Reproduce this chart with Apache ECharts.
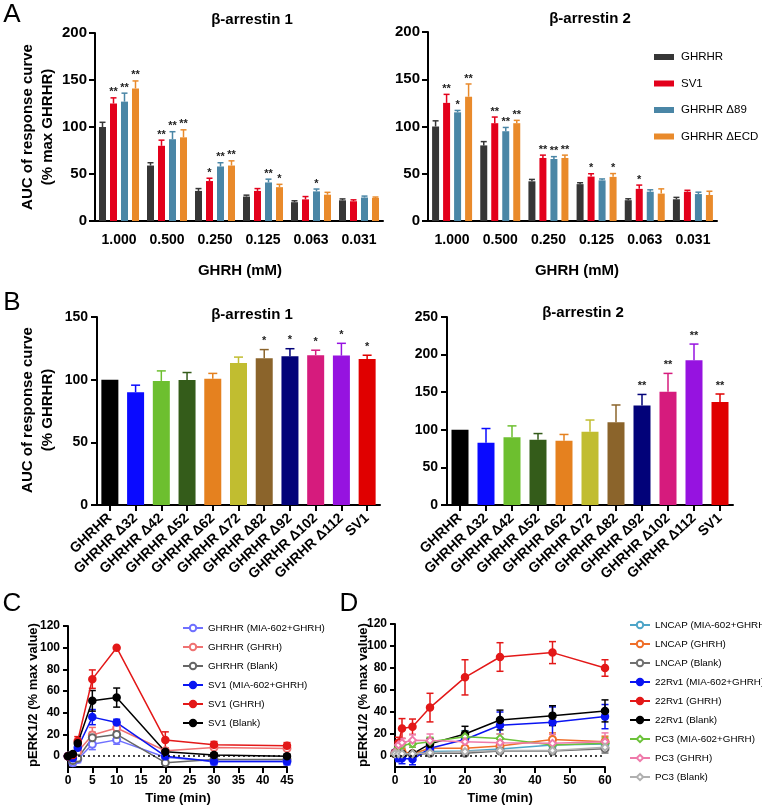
<!DOCTYPE html>
<html>
<head>
<meta charset="utf-8">
<script src="https://cdn.jsdelivr.net/npm/echarts@6/dist/echarts.min.js"></script>
<style>html,body{margin:0;padding:0;background:#fff}#main{width:762px;height:807px}</style>
</head>
<body>
<div id="main"></div>
<script>
// ---------- data ----------
const doses = ['1.000', '0.500', '0.250', '0.125', '0.063', '0.031'];
const groupsA = ['GHRHR', 'SV1', 'GHRHR Δ89', 'GHRHR ΔECD'];
const colorsA = ['#363636', '#e3001b', '#4a86a6', '#e98a2b'];

// beta-arrestin 1, panel A (one row per group)
const a1Mean = [[100, 59, 32, 26, 20, 22], [125, 80, 42.5, 32, 23, 21], [127, 87, 58, 41, 31.5, 25], [141, 89, 59, 36, 28, 24.5]];
const a1Err = [[5, 3, 2.5, 1.5, 1.5, 1.5], [6, 6, 3, 2.5, 3, 1.5], [9, 8, 4, 3.5, 2.5, 1.5], [8, 8, 5, 3, 2.5, 1]];
const a1Stars = [['', '', '', '', '', ''], ['**', '**', '*', '', '', ''], ['**', '**', '**', '**', '*', ''], ['**', '**', '**', '*', '', '']];
// beta-arrestin 2, panel A
const a2Mean = [[100, 80, 42, 39, 22, 23], [125, 103.5, 66.7, 47, 34, 31], [115, 95, 65.6, 43, 31, 28.5], [131.5, 103.5, 66.7, 46.7, 29, 27.5]];
const a2Err = [[6, 4, 2, 1.5, 1.5, 2], [9, 6.5, 3, 3, 4, 1.5], [2, 4, 2.5, 1.5, 2, 2], [13.5, 3, 3, 3.5, 5, 4]];
const a2Stars = [['', '', '', '', '', ''], ['**', '**', '**', '*', '*', ''], ['*', '**', '**', '', '', ''], ['**', '**', '**', '*', '', '']];

// panel B
const labelsB = ['GHRHR', 'GHRHR Δ32', 'GHRHR Δ42', 'GHRHR Δ52', 'GHRHR Δ62', 'GHRHR Δ72', 'GHRHR Δ82', 'GHRHR Δ92', 'GHRHR Δ102', 'GHRHR Δ112', 'SV1'];
const colorsB = ['#000000', '#0a0aff', '#6dbf2f', '#345c1a', '#e5811f', '#c1bd30', '#8b642b', '#020279', '#d61b7d', '#9613e0', '#e00000'];
const b1Mean = [100, 90, 99, 99.7, 100.8, 113.3, 117, 118.7, 119.5, 119.2, 116.5];
const b1Err = [0, 5.6, 8, 6, 4.2, 4.7, 7, 6, 4, 9.8, 3];
const b1Stars = ['', '', '', '', '', '', '*', '*', '*', '*', '*'];
const b2Mean = [100, 82.7, 90.2, 86.7, 85.3, 97.3, 110, 132.4, 150.7, 192.4, 137];
const b2Err = [0, 19, 15, 8.3, 8.5, 15.7, 23, 14.6, 24.3, 21.6, 10.6];
const b2Stars = ['', '', '', '', '', '', '', '**', '**', '**', '**'];

// panel C
const timesC = [0, 1, 2, 5, 10, 20, 30, 45];
const namesC = ['GHRHR (MIA-602+GHRH)', 'GHRHR (GHRH)', 'GHRHR (Blank)', 'SV1 (MIA-602+GHRH)', 'SV1 (GHRH)', 'SV1 (Blank)'];
const colorsC = ['#6f70ff', '#ef7272', '#666666', '#0a16f2', '#e31818', '#000000'];
const symbolsC = ['emptyCircle', 'emptyCircle', 'emptyCircle', 'circle', 'circle', 'circle'];
const cMean = [
  [0, -6, -3, 11, 15, -1, -5, -5],
  [0, -3, 4, 19.5, 26, 5, 8, 7],
  [0, -4, -2, 17, 20, -6, -3, -3],
  [0, -2, 7.7, 36, 31, 0, -5, -5],
  [0, 1, 14, 71, 100, 15, 10.5, 9.5],
  [0, 2, 12, 51, 54, 4, 1, 0]
];
const cErr = [
  [2, 3, 3, 5, 4, 1, 2, 2],
  [2, 2, 3, 7, 3, 1, 1, 1],
  [2, 2, 2, 5, 3, 1, 1, 1],
  [1, 3, 3, 7, 3, 2, 3, 3],
  [1, 2, 4, 8.5, 0, 7.4, 3, 3],
  [1, 2, 3, 9.5, 8.8, 2, 2, 2]
];

// panel D
const timesD = [0, 1, 2, 5, 10, 20, 30, 45, 60];
const namesD = ['LNCAP (MIA-602+GHRH)', 'LNCAP (GHRH)', 'LNCAP (Blank)', '22Rv1 (MIA-602+GHRH)', '22Rv1 (GHRH)', '22Rv1 (Blank)', 'PC3 (MIA-602+GHRH)', 'PC3 (GHRH)', 'PC3 (Blank)'];
const colorsD = ['#4ea5c8', '#ef6f2a', '#707070', '#0a14f2', '#e31818', '#000000', '#6cc23a', '#ef7aaa', '#b0b0b0'];
const symbolsD = ['emptyCircle', 'emptyCircle', 'emptyCircle', 'circle', 'circle', 'circle', 'emptyDiamond', 'emptyDiamond', 'emptyDiamond'];
const dMean = [
  [3, 3, 2, 2, 4, 4.5, 6.4, 10, 11],
  [2, 5, 4, 2, 7, 7, 9, 15, 13],
  [2, 1, 1, 1, 2.4, 2.4, 4.5, 4.5, 6.7],
  [3, -2, -2, -3, 7, 15, 28, 30.6, 35.8],
  [3, 12, 25, 26.6, 44, 71.5, 90, 94, 80],
  [2, 3, 2, 2, 11, 20, 32.7, 36.7, 41],
  [3, 8, 10, 11, 13, 17.6, 16, 10, 11.5],
  [3, 10, 12, 14.4, 14, 13, 12, 11.5, 13],
  [2, 2, 2, 2, 3, 4, 5, 5, 8]
];
const dErr = [
  [2, 2, 2, 2, 2, 2, 2, 3, 3],
  [2, 2, 2, 2, 2, 2, 3, 6, 5],
  [1, 1, 1, 1, 2, 2, 2, 3, 4],
  [2, 3, 5, 5, 6, 8, 12, 14, 11],
  [2, 5, 9, 7, 13, 16, 13, 10, 7.5],
  [1, 2, 2, 2, 5, 7, 9, 9, 10],
  [2, 3, 3, 3, 4, 5, 4, 4, 5],
  [2, 4, 4, 5, 6, 8, 8, 8, 8],
  [1, 1, 1, 1, 2, 2, 2, 2, 3]
];

const pctTicks = [0, 20, 40, 60, 80, 100, 120];

// ---------- helpers ----------
const FONT = 'Liberation Sans, Arial, Helvetica, sans-serif';

function axisBase(extra) {
  return Object.assign({
    axisLine: { show: true, onZero: false, lineStyle: { color: '#000', width: 2 } },
    axisTick: { show: true, length: 6, lineStyle: { color: '#000', width: 2 } },
    splitLine: { show: false }
  }, extra);
}

function lbl(size, extra) {
  return Object.assign({ color: '#000', fontWeight: 'bold', fontSize: size, fontFamily: FONT }, extra);
}

// upward error bar (+ stars) drawn next to a bar, offset in px from category centre
function barErr(offset, colorOf, capW, stars, starGap) {
  return function (params, api) {
    const x = api.value(0), v = api.value(1), e = api.value(2);
    const base = api.coord([x, v]);
    const top = api.coord([x, v + e]);
    const cx = base[0] + offset;
    const col = colorOf(params.dataIndex);
    const ch = [];
    if (e > 0) {
      ch.push({ type: 'line', shape: { x1: cx, y1: base[1], x2: cx, y2: top[1] }, style: { stroke: col, lineWidth: 1.5 } });
      ch.push({ type: 'line', shape: { x1: cx - capW / 2, y1: top[1], x2: cx + capW / 2, y2: top[1] }, style: { stroke: col, lineWidth: 1.5 } });
    }
    const s = stars[params.dataIndex];
    if (s) {
      ch.push({ type: 'text', style: { text: s, x: cx, y: top[1] - starGap, textAlign: 'center', textVerticalAlign: 'bottom', font: 'bold 11px ' + FONT, fill: '#222' } });
    }
    return { type: 'group', children: ch };
  };
}

// symmetric error bar for time courses
function lineErr(col) {
  return function (params, api) {
    const x = api.value(0), v = api.value(1), e = api.value(2);
    if (!e) return null;
    const lo = api.coord([x, v - e]);
    const hi = api.coord([x, v + e]);
    const w = 3.5;
    return { type: 'group', children: [
      { type: 'line', shape: { x1: lo[0], y1: lo[1], x2: hi[0], y2: hi[1] }, style: { stroke: col, lineWidth: 1.5 } },
      { type: 'line', shape: { x1: lo[0] - w, y1: lo[1], x2: lo[0] + w, y2: lo[1] }, style: { stroke: col, lineWidth: 1.5 } },
      { type: 'line', shape: { x1: hi[0] - w, y1: hi[1], x2: hi[0] + w, y2: hi[1] }, style: { stroke: col, lineWidth: 1.5 } }
    ] };
  };
}

// ---------- series ----------
const series = [];
const barW = 7, step = 11;

[[a1Mean, a1Err, a1Stars, 0], [a2Mean, a2Err, a2Stars, 1]].forEach(function (p) {
  const means = p[0], errs = p[1], stars = p[2], ax = p[3];
  groupsA.forEach(function (g, gi) {
    series.push({
      type: 'bar', name: g, xAxisIndex: ax, yAxisIndex: ax,
      data: means[gi], barWidth: barW, barGap: ((step - barW) / barW * 100) + '%',
      itemStyle: { color: colorsA[gi] }, z: 2
    });
  });
  groupsA.forEach(function (g, gi) {
    series.push({
      type: 'custom', xAxisIndex: ax, yAxisIndex: ax, silent: true, z: 3,
      data: means[gi].map(function (v, i) { return [i, v, errs[gi][i]]; }),
      encode: { x: 0, y: 1 },
      renderItem: barErr((gi - 1.5) * step, function () { return colorsA[gi]; }, 6, stars[gi], 0)
    });
  });
});

[[b1Mean, b1Err, b1Stars, 2], [b2Mean, b2Err, b2Stars, 3]].forEach(function (p) {
  const means = p[0], errs = p[1], stars = p[2], ax = p[3];
  series.push({
    type: 'bar', name: 'B' + ax, xAxisIndex: ax, yAxisIndex: ax, barWidth: 17, z: 2,
    data: means.map(function (v, i) { return { value: v, itemStyle: { color: colorsB[i] } }; })
  });
  series.push({
    type: 'custom', xAxisIndex: ax, yAxisIndex: ax, silent: true, z: 3,
    data: means.map(function (v, i) { return [i, v, errs[i]]; }),
    encode: { x: 0, y: 1 },
    renderItem: barErr(0, function (i) { return colorsB[i]; }, 9, stars, 3)
  });
});

function addTimeCourse(names, colors, symbols, times, means, errs, ax) {
  names.forEach(function (n, k) {
    series.push({
      type: 'custom', xAxisIndex: ax, yAxisIndex: ax, silent: true, z: 2,
      data: times.map(function (t, i) { return [t, means[k][i], errs[k][i]]; }),
      encode: { x: 0, y: 1 },
      renderItem: lineErr(colors[k])
    });
  });
  names.forEach(function (n, k) {
    const s = {
      type: 'line', name: n, xAxisIndex: ax, yAxisIndex: ax, z: 3,
      data: times.map(function (t, i) { return [t, means[k][i]]; }),
      symbol: symbols[k], symbolSize: 7, showAllSymbol: true,
      lineStyle: { color: colors[k], width: 1.5 },
      itemStyle: { color: colors[k], borderColor: colors[k], borderWidth: 1.5 },
      emphasis: { disabled: true }
    };
    if (k === 0) {
      s.markLine = {
        silent: true, symbol: 'none', label: { show: false },
        lineStyle: { color: '#000', type: [2, 3], width: 1.5 },
        data: [{ yAxis: 0 }]
      };
    }
    series.push(s);
  });
}
addTimeCourse(namesC, colorsC, symbolsC, timesC, cMean, cErr, 4);
addTimeCourse(namesD, colorsD, symbolsD, timesD, dMean, dErr, 5);

// ---------- text ----------
function txt(text, x, y, font, extra) {
  return Object.assign({
    type: 'text', x: x, y: y, silent: true,
    style: { text: text, font: font, fill: '#000', textAlign: 'center', textVerticalAlign: 'middle', lineHeight: 20 }
  }, extra || {});
}
const graphics = [
  txt('A', 12, 15, '26px ' + FONT),
  txt('B', 12, 303, '26px ' + FONT),
  txt('C', 12, 604, '26px ' + FONT),
  txt('D', 349, 604, '26px ' + FONT),
  txt('β-arrestin 1', 252, 20, 'bold 15px ' + FONT),
  txt('β-arrestin 2', 590, 19, 'bold 15px ' + FONT),
  txt('β-arrestin 1', 252, 315, 'bold 15px ' + FONT),
  txt('β-arrestin 2', 583, 313, 'bold 15px ' + FONT),
  txt('GHRH (mM)', 240, 271, 'bold 15px ' + FONT),
  txt('GHRH (mM)', 577, 271, 'bold 15px ' + FONT),
  txt('Time (min)', 178, 798, 'bold 13px ' + FONT),
  txt('Time (min)', 500, 798, 'bold 13px ' + FONT),
  txt('AUC of response curve\n(% max GHRHR)', 38, 127, 'bold 15px ' + FONT, { rotation: Math.PI / 2 }),
  txt('AUC of response curve\n(% GHRHR)', 38, 410, 'bold 15px ' + FONT, { rotation: Math.PI / 2 }),
  txt('pERK1/2 (% max value)', 33, 695, 'bold 13px ' + FONT, { rotation: Math.PI / 2 }),
  txt('pERK1/2 (% max value)', 363, 695, 'bold 13px ' + FONT, { rotation: Math.PI / 2 })
];

// ---------- option ----------
const legendText = { fontSize: 9.8, color: '#000', fontFamily: FONT, padding: [0, 0, 0, 0] };
const option = {
  backgroundColor: '#fff',
  animation: false,
  textStyle: { fontFamily: FONT },
  grid: [
    { left: 95, top: 33, width: 288, height: 188 },
    { left: 428, top: 32, width: 289, height: 189 },
    { left: 97, top: 317, width: 283, height: 188 },
    { left: 447, top: 317, width: 286, height: 188 },
    { left: 68, top: 626, width: 219, height: 141 },
    { left: 395, top: 624, width: 210, height: 143 }
  ],
  xAxis: [
    axisBase({ type: 'category', gridIndex: 0, data: doses, axisTick: { show: false }, axisLabel: lbl(14, { margin: 12, interval: 0 }) }),
    axisBase({ type: 'category', gridIndex: 1, data: doses, axisTick: { show: false }, axisLabel: lbl(14, { margin: 12, interval: 0 }) }),
    axisBase({ type: 'category', gridIndex: 2, data: labelsB, axisTick: { show: true, alignWithLabel: true, length: 6, lineStyle: { color: '#000', width: 2 } }, axisLabel: lbl(14, { rotate: 43, interval: 0, margin: 11 }) }),
    axisBase({ type: 'category', gridIndex: 3, data: labelsB, axisTick: { show: true, alignWithLabel: true, length: 6, lineStyle: { color: '#000', width: 2 } }, axisLabel: lbl(14, { rotate: 43, interval: 0, margin: 11 }) }),
    axisBase({ type: 'value', gridIndex: 4, min: 0, max: 45, interval: 5, axisLabel: lbl(12, { margin: 8 }) }),
    axisBase({ type: 'value', gridIndex: 5, min: 0, max: 60, interval: 10, axisLabel: lbl(12, { margin: 8 }) })
  ],
  yAxis: [
    axisBase({ type: 'value', gridIndex: 0, min: 0, max: 200, interval: 50, axisLabel: lbl(15, { margin: 8 }) }),
    axisBase({ type: 'value', gridIndex: 1, min: 0, max: 200, interval: 50, axisLabel: lbl(15, { margin: 8 }) }),
    axisBase({ type: 'value', gridIndex: 2, min: 0, max: 150, interval: 50, axisLabel: lbl(14, { margin: 9 }) }),
    axisBase({ type: 'value', gridIndex: 3, min: 0, max: 250, interval: 50, axisLabel: lbl(14, { margin: 9 }) }),
    axisBase({ type: 'value', gridIndex: 4, min: -10, max: 120,
      axisTick: { show: true, length: 5, customValues: pctTicks, lineStyle: { color: '#000', width: 2 } },
      axisLabel: lbl(12, { margin: 8, customValues: pctTicks }) }),
    axisBase({ type: 'value', gridIndex: 5, min: -10, max: 120,
      axisTick: { show: true, length: 5, customValues: pctTicks, lineStyle: { color: '#000', width: 2 } },
      axisLabel: lbl(12, { margin: 8, customValues: pctTicks }) })
  ],
  legend: [
    { data: groupsA, orient: 'vertical', left: 649, top: 46, icon: 'rect', itemWidth: 20, itemHeight: 6, itemGap: 14.5,
      selectedMode: false, textStyle: { fontSize: 11.5, color: '#000', fontFamily: FONT, padding: [0, 0, 0, 2] } },
    { data: namesC, orient: 'vertical', left: 177, top: 618, itemWidth: 20, itemHeight: 8, itemGap: 9,
      selectedMode: false, textStyle: legendText },
    { data: namesD, orient: 'vertical', left: 624, top: 615, itemWidth: 20, itemHeight: 8, itemGap: 9,
      selectedMode: false, textStyle: legendText }
  ],
  graphic: graphics,
  series: series
};

const chart = echarts.init(document.getElementById('main'), null, { renderer: 'canvas' });
chart.setOption(option);
</script>
</body>
</html>
